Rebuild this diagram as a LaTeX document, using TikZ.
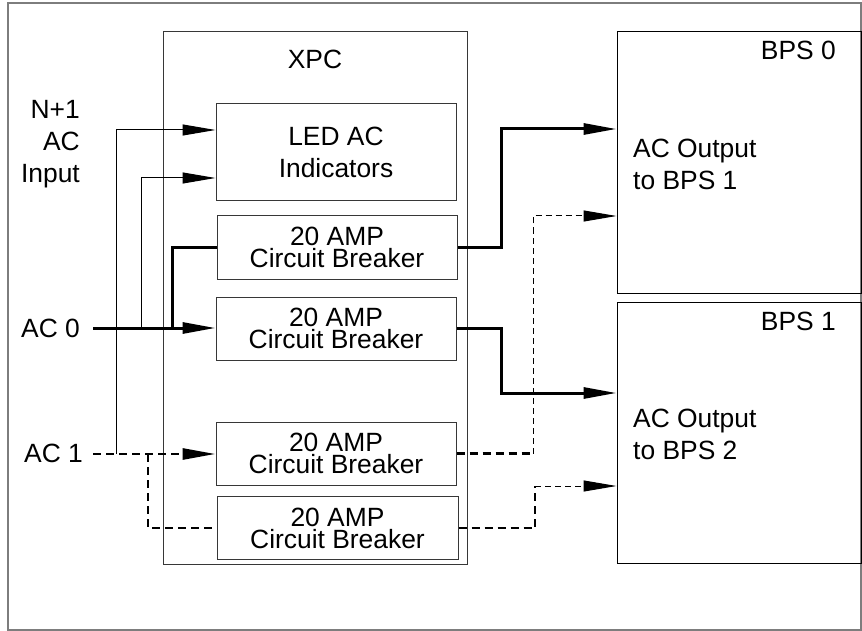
\documentclass[tikz,border=0pt]{standalone}
\usepackage{fontspec}
\setmainfont{Liberation Sans}
\usetikzlibrary{arrows.meta}
\definecolor{frameGray}{RGB}{125,125,125}
\definecolor{boxGray}{RGB}{55,55,55}

\begin{document}
\begin{tikzpicture}[x=1pt, y=-1pt,
    frame/.style={draw=frameGray, line width=1.2pt},
    xpcbox/.style={draw=boxGray, line width=1pt, minimum width=304pt,
                   minimum height=532pt, inner sep=0pt},
    unit/.style={draw=boxGray, line width=1pt, minimum width=240pt,
                 minimum height=63pt, inner sep=0pt, align=center,
                 font=\fontsize{26.4}{22}\selectfont},
    bpsbox/.style={draw=black, line width=1pt, minimum width=244pt,
                   minimum height=261pt, inner sep=0pt},
    txt/.style={inner sep=0pt, font=\fontsize{26.4}{32}\selectfont},
    arr/.style={-{Triangle[length=33pt, width=11pt]}},
    thinw/.style={line width=1pt},
    thickw/.style={line width=3pt},
    thindash/.style={line width=1pt, dash pattern=on 6pt off 4pt},
    thickdash/.style={line width=2.8pt, dash pattern=on 8pt off 5pt}
  ]
  \useasboundingbox (0,0) rectangle (862,631);
  \draw[frame] (8,3) rectangle (861,630);

  % XPC and its units
  \node[xpcbox] (xpc) at (315,298) {};
  \node[txt, anchor=base] (xpclbl) at (315,69) {XPC};
  \node[unit, minimum height=97pt, font=\fontsize{26.4}{32}\selectfont]
        (led) at (336,152.5) {LED AC\\Indicators};
  \node[unit] (cba) at (337,247.5) {20 AMP\\Circuit Breaker};
  \node[unit] (cbb) at (336,328.5) {20 AMP\\Circuit Breaker};
  \node[unit] (cbc) at (336,453.5) {20 AMP\\Circuit Breaker};
  \node[unit, minimum width=241pt] (cbd) at (337.5,528) {20 AMP\\Circuit Breaker};

  % power supplies
  \node[bpsbox] (bps0) at (739,162.5) {};
  \node[bpsbox] (bps1) at (739,432.5) {};
  \node[txt, anchor=base east] (bps0lbl) at (836,60) {BPS 0};
  \node[txt, anchor=base east] (bps1lbl) at (836,330) {BPS 1};
  \node[txt, anchor=west, align=left] (out1) at (633,164) {AC Output\\to BPS 1};
  \node[txt, anchor=west, align=left] (out2) at (633,434) {AC Output\\to BPS 2};

  % inputs
  \node[txt, anchor=east, align=right] (nin) at (80,144) {N+1\\AC\\Input};
  \node[txt, anchor=base west] (ac0) at (21,337) {AC 0};
  \node[txt, anchor=base west] (ac1) at (24,462) {AC 1};
  \coordinate (ac0in) at (93,328);
  \coordinate (ac1in) at (93,454);

  \draw[thinw, arr] (ac1in -| 116,0) |- (led.west |- 0,130);
  \draw[thinw, arr] (ac0in -| 141,0) |- (led.west |- 0,178);
  \draw[thickw] (ac0in -| 172,0) |- (cba.west);
  \draw[thickw, arr] (ac0in) -- (cbb.west |- ac0in);
  \draw[thickdash] (ac1in -| 148,0) |- (cbd.west);
  \draw[thickdash, arr] (ac1in) -- (cbc.west |- ac1in);

  % outputs
  \coordinate (ra) at (501,129);
  \coordinate (rb) at (501,393);
  \coordinate (rc) at (533,216);
  \coordinate (rd) at (535,486);
  \draw[thickw, arr] (cba.east) -- (cba.east -| ra) |- (bps0.west |- ra);
  \draw[thickw, arr] (cbb.east) -- (cbb.east -| rb) |- (bps1.west |- rb);
  \draw[thickdash] (cbc.east) -- (cbc.east -| rc);
  \draw[thindash, arr] (cbc.east -| rc) -- (rc) -- (bps0.west |- rc);
  \draw[thickdash] (cbd.east) -| (rd);
  \draw[thindash, arr] (rd) -- (bps1.west |- rd);
\end{tikzpicture}
\end{document}
